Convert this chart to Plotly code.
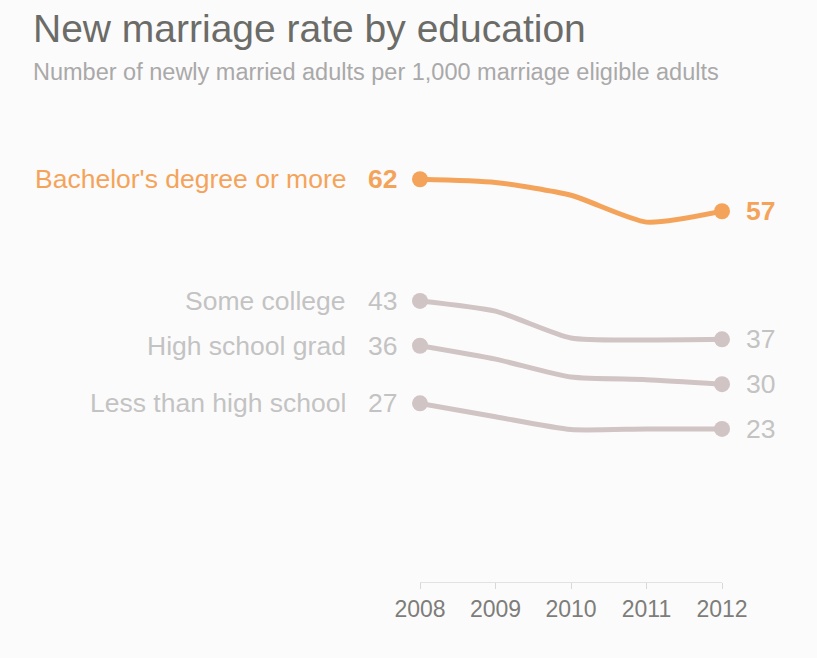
import plotly.graph_objects as go

years = [2008, 2009, 2010, 2011, 2012]
groups = ["Bachelor's degree or more", "Some college", "High school grad", "Less than high school"]
bachelor = [62, 61.5, 59.5, 55.3, 57]
some_college = [43, 41.4, 37.2, 36.9, 37]
hs_grad = [36, 33.9, 31.1, 30.7, 30]
less_hs = [27, 24.9, 22.9, 23.0, 23]
series = [bachelor, some_college, hs_grad, less_hs]

title_text = "New marriage rate by education"
subtitle_text = "Number of newly married adults per 1,000 marriage eligible adults"

ORANGE = "#f4a45a"
GREY_LINE = "#d0c4c4"
GREY_TEXT = "#c3c3c3"
FONT = "Liberation Sans, Arial, sans-serif"
LABEL_SIZE = 26.5

# plot area geometry (pixels)
W, H = 817, 658
L, R, T, B = 420, 95, 128, 76
PW, PH = W - L - R, H - T - B


def px_x(px):
    return (px - L) / PW


def px_y(py):
    return (H - B - py) / PH


fig = go.Figure()
annotations = []
for name, vals in zip(groups, series):
    highlight = name == groups[0]
    color = ORANGE if highlight else GREY_LINE
    fig.add_trace(go.Scatter(
        x=years, y=vals, mode="lines", name=name,
        line=dict(color=color, width=5, shape="spline", smoothing=0.6),
        cliponaxis=False, hoverinfo="skip",
    ))
    fig.add_trace(go.Scatter(
        x=[years[0], years[-1]], y=[vals[0], vals[-1]], mode="markers",
        marker=dict(color=color, size=16), cliponaxis=False, hoverinfo="skip",
        showlegend=False,
    ))
    tcolor = ORANGE if highlight else GREY_TEXT
    weight = "<b>%s</b>" if highlight else "%s"
    annotations.append(dict(
        x=years[0], y=vals[0], xref="x", yref="y", text=name,
        showarrow=False, xanchor="right", yanchor="middle", xshift=-72,
        font=dict(family=FONT, size=LABEL_SIZE, color=tcolor),
    ))
    annotations.append(dict(
        x=years[0], y=vals[0], xref="x", yref="y", text=weight % f"{vals[0]:g}",
        showarrow=False, xanchor="right", yanchor="middle", xshift=-21,
        font=dict(family=FONT, size=LABEL_SIZE, color=tcolor),
    ))
    annotations.append(dict(
        x=years[-1], y=vals[-1], xref="x", yref="y", text=weight % f"{vals[-1]:g}",
        showarrow=False, xanchor="left", yanchor="middle", xshift=22,
        font=dict(family=FONT, size=LABEL_SIZE, color=tcolor),
    ))

annotations.append(dict(
    x=px_x(31), y=px_y(28.5), xref="paper", yref="paper", text=title_text,
    showarrow=False, xanchor="left", yanchor="middle",
    font=dict(family=FONT, size=39, color="#6b6c68"),
))
annotations.append(dict(
    x=px_x(31), y=px_y(72), xref="paper", yref="paper", text=subtitle_text,
    showarrow=False, xanchor="left", yanchor="middle",
    font=dict(family=FONT, size=23.5, color="#a9a9a9"),
))

fig.update_layout(
    width=W, height=H,
    margin=dict(l=L, r=R, t=T, b=B),
    paper_bgcolor="#fcfbfb", plot_bgcolor="#fcfbfb",
    showlegend=False,
    xaxis=dict(
        range=[2008, 2012], tickvals=years, ticktext=[str(y) for y in years],
        showgrid=False, zeroline=False, showline=True, linecolor="#e2e2e2",
        ticks="outside", ticklen=6, tickcolor="#d8d8d8",
        tickfont=dict(family=FONT, size=23, color="#7d7d7a"),
    ),
    yaxis=dict(range=[-0.9, 70], visible=False),
    annotations=annotations,
)

fig.write_html("out.html")
